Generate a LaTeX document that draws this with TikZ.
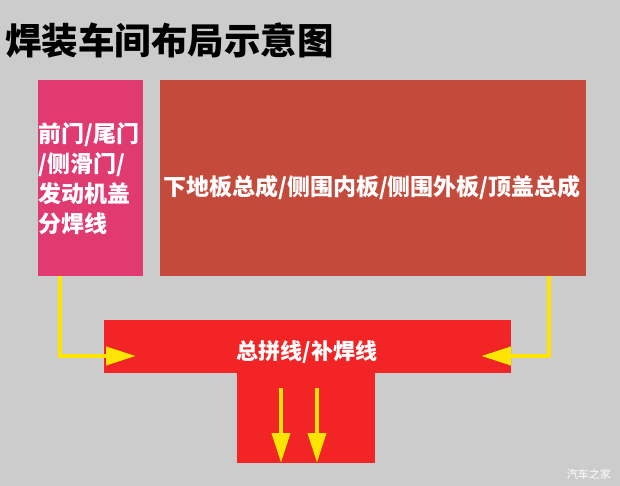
\documentclass[tikz,border=0pt]{standalone}
\usepackage{fontspec}
\newfontfamily\cjk{Noto Sans CJK SC}
\usetikzlibrary{arrows.meta}
\definecolor{bggray}{RGB}{204,204,204}
\definecolor{pinkbox}{RGB}{224,58,112}
\definecolor{brickbox}{RGB}{196,74,60}
\definecolor{redbox}{RGB}{242,36,38}
\definecolor{arrowyellow}{RGB}{255,228,0}
\definecolor{shadowgray}{RGB}{70,70,50}
\tikzset{
  blockbox/.style={draw=none, inner sep=0pt, anchor=north west},
  boxtext/.style={text=white, font=\cjk\bfseries},
  flowline/.style={draw=arrowyellow, line width=4pt, line join=miter,
    -{Triangle[length=30pt,width=18pt]}},
  flowshadow/.style={draw=shadowgray, opacity=0.55, line width=4pt, line join=miter,
    -{Triangle[length=30pt,width=18pt]}},
}
\begin{document}
\begin{tikzpicture}[x=1pt,y=-1pt]
\useasboundingbox (0,0) rectangle (620,486);
\fill[bggray] (0,0) rectangle (620,486);
% title
\node[anchor=west, inner sep=0pt, font=\cjk\bfseries\fontsize{36.5}{40}\selectfont] (title) at (5,41) {焊装车间布局示意图};
% boxes
\node[blockbox, fill=pinkbox, minimum width=105pt, minimum height=196pt] (pink) at (38,80) {};
\node[blockbox, fill=brickbox, minimum width=426pt, minimum height=196pt] (brick) at (160,80) {};
\node[blockbox, fill=redbox, minimum width=407pt, minimum height=53pt] (bar) at (104,320) {};
\node[blockbox, fill=redbox, minimum width=138pt, minimum height=91pt] (stem) at (237,372) {};
% texts
\node[boxtext, anchor=north west, inner sep=0pt, align=left,
  font=\cjk\bfseries\fontsize{23}{30}\selectfont] (pinktext) at (38,122)
  {前门/尾门\\/侧滑门/\\发动机盖\\分焊线};
\node[boxtext, inner sep=0pt, font=\cjk\bfseries\fontsize{23}{28}\selectfont] (bricktext) at (372,188)
  {下地板总成/侧围内板/侧围外板/顶盖总成};
\node[boxtext, inner sep=0pt, font=\cjk\bfseries\fontsize{22}{28}\selectfont] (bartext) at (307,352)
  {总拼线/补焊线};
% watermark
\node[anchor=east, inner sep=0pt, text=white, font=\cjk\fontsize{11}{13}\selectfont] (mark) at (611,474) {汽车之家};
% connector coordinates
\coordinate (lstart) at (pink.south west -| 60,0);
\coordinate (lend) at (136,356);
\coordinate (rstart) at (brick.south west -| 549,0);
\coordinate (rend) at (481,356);
\coordinate (d1s) at (281,388);
\coordinate (d1e) at (281,463);
\coordinate (d2s) at (317,388);
\coordinate (d2e) at (317,463);
% shadows
\begin{scope}[shift={(2,2)}]
\draw[flowshadow] (lstart) |- (lend);
\draw[flowshadow] (rstart) |- (rend);
\draw[flowshadow] (d1s) -- (d1e);
\draw[flowshadow] (d2s) -- (d2e);
\end{scope}
% arrows
\draw[flowline] (lstart) |- (lend);
\draw[flowline] (rstart) |- (rend);
\draw[flowline] (d1s) -- (d1e);
\draw[flowline] (d2s) -- (d2e);
\end{tikzpicture}
\end{document}
